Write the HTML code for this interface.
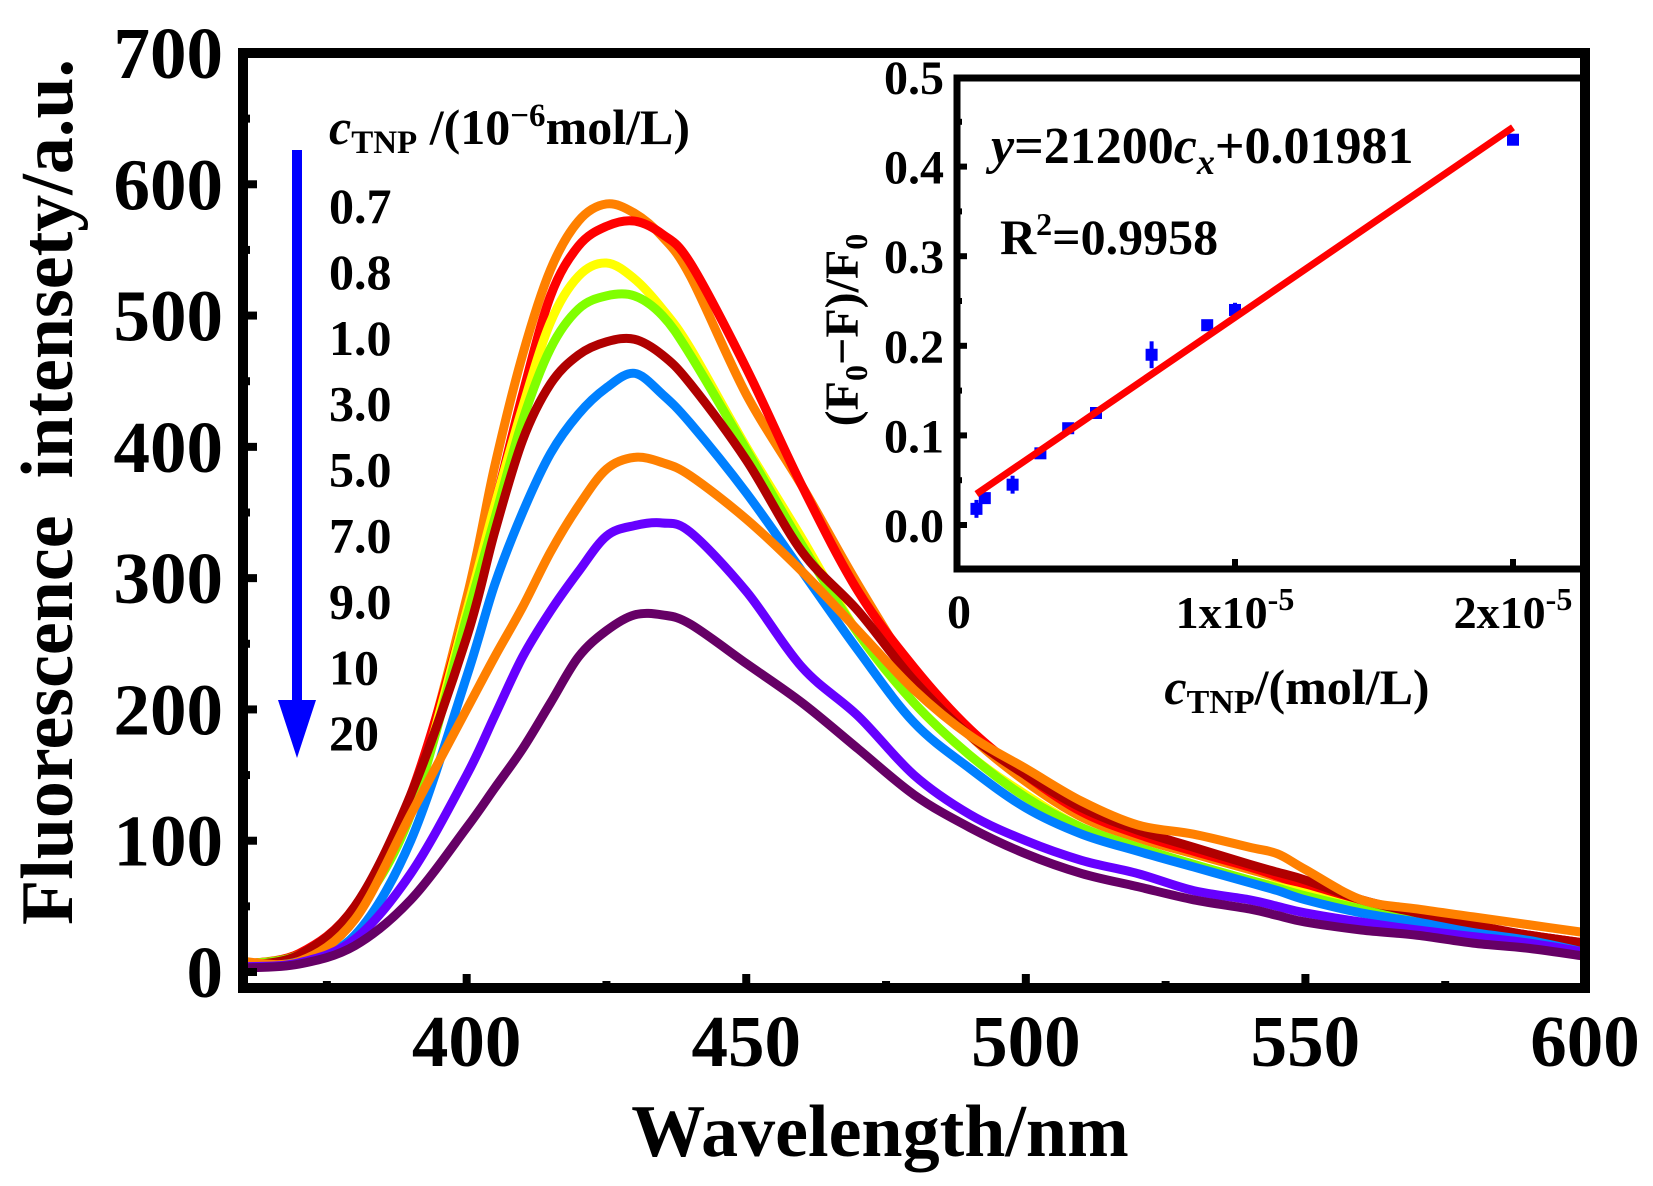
<!DOCTYPE html>
<html><head><meta charset="utf-8"><style>
html,body{margin:0;padding:0;background:#fff;}
svg{display:block;font-family:"Liberation Serif",serif;font-weight:bold;}
</style></head><body>
<svg id="chart" width="1653" height="1186" viewBox="0 0 1653 1186" xmlns="http://www.w3.org/2000/svg">
<rect width="1653" height="1186" fill="#fff"/>
<g id="curves"></g>
<g id="inset"></g>
<g id="axes"></g>
<text x="0" y="0" font-size="74" text-anchor="middle" transform="translate(72,492) rotate(-90)" xml:space="preserve">Fluorescence  intensety/a.u.</text>
<text x="880" y="1156" font-size="74" text-anchor="middle">Wavelength/nm</text>
<g>
<rect x="292" y="150" width="10" height="560" fill="#0000ff"/>
<polygon points="278,700 316,700 297,758" fill="#0000ff"/>
<text x="329" y="144" font-size="50"><tspan font-style="italic">c</tspan><tspan font-size="33" dy="9">TNP</tspan><tspan dy="-9"> /(10</tspan><tspan font-size="33" dy="-18">−6</tspan><tspan dy="18">mol/L)</tspan></text>
<g id="legendItems"></g>
</g>
</svg>
<script>
const wl=[360,370,380,390,400,405,410,415,420,425,430,435,440,450,460,470,480,490,500,510,520,530,540,545,550,560,570,580,590,600];
const s07=[6,14,48,130,285,385,470,535,572,585,578,560,530,440,370,295,228,180,145,118,102,90,78,72,65,52,42,35,28,22];
const s08=[6,14,50,135,275,355,440,515,553,568,572,562,540,460,370,290,232,185,150,122,105,92,80,73,65,50,42,35,28,22];
const s10=[6,13,45,125,275,355,430,495,530,540,528,505,475,400,330,258,205,165,135,110,95,82,70,65,60,48,40,33,26,20];
const s30=[6,13,45,120,270,345,420,475,505,515,515,500,470,398,325,258,205,165,133,110,95,82,70,64,58,48,40,33,26,20];
const s50=[5,13,50,135,255,335,405,448,470,480,482,470,448,390,320,275,222,180,150,125,108,95,82,76,70,55,45,36,28,22];
const s70=[4,8,28,100,225,295,350,395,425,445,456,440,418,365,305,245,190,155,125,105,92,80,68,62,55,45,38,30,24,15];
const s90=[8,8,40,120,200,240,278,320,355,383,392,388,378,345,305,260,215,180,155,130,112,105,95,90,78,55,48,42,36,30];
const s100=[4,7,25,75,150,195,240,275,305,332,340,342,335,290,232,195,150,120,100,85,75,62,55,50,45,38,32,27,22,15];
const s200=[3,6,20,55,110,140,170,205,240,260,272,272,265,235,205,170,135,110,90,75,65,55,48,43,38,32,28,22,18,12];
const seriesVals=[s07,s08,s10,s30,s50,s70,s90,s100,s200];
const seriesColors=["#ff8000","#ff0000","#ffff00","#80ff00","#b00000","#0080ff","#ff8000","#6600ff","#660066"];
const seriesLabels=["0.7","0.8","1.0","3.0","5.0","7.0","9.0","10","20"];
const xTicks=[400,450,500,550,600];
const yTicks=[0,100,200,300,400,500,600,700];
const insetX=[0.7e-6,1.0e-6,2e-6,3e-6,4e-6,5e-6,7e-6,9e-6,10e-6,20e-6];
const insetY=[0.018,0.03,0.045,0.08,0.108,0.125,0.19,0.223,0.24,0.43];
const insetErr=[0.01,0.006,0.01,0.004,0.004,0.004,0.015,0.006,0.008,0.004];
const insetYTicks=[0.0,0.1,0.2,0.3,0.4,0.5];
const insetYTickLabels=["0.0","0.1","0.2","0.3","0.4","0.5"];
const fitSlope=21200, fitIntercept=0.01981;

const NS="http://www.w3.org/2000/svg";
const L=243,R=1585,T=53,B=988;
const X=w=>L+(w-360)*(R-L)/240;
const Y=v=>972-v*(972-53)/700;
const IL=957,IR=1585,IT=78,IB=569;
const IX=c=>IL+c*278e5;
const IY=v=>525-v*896;
function el(tag,attrs,parent){const e=document.createElementNS(NS,tag);for(const k in attrs)e.setAttribute(k,attrs[k]);parent.appendChild(e);return e;}
function smooth(pts){let d=`M${pts[0][0]},${pts[0][1]}`;for(let i=0;i<pts.length-1;i++){const p0=pts[Math.max(0,i-1)],p1=pts[i],p2=pts[i+1],p3=pts[Math.min(pts.length-1,i+2)];d+=`C${p1[0]+(p2[0]-p0[0])/6},${p1[1]+(p2[1]-p0[1])/6} ${p2[0]-(p3[0]-p1[0])/6},${p2[1]-(p3[1]-p1[1])/6} ${p2[0]},${p2[1]}`;}return d;}
const curves=document.getElementById('curves');
seriesVals.forEach((vals,i)=>{
 const p=el('path',{d:smooth(wl.map((w,j)=>[X(w),Y(vals[j])])),fill:'none',stroke:seriesColors[i],'stroke-width':9,'stroke-linejoin':'round'},curves);
 
 
});
const li=document.getElementById('legendItems');
seriesLabels.forEach((lab,i)=>{
 const t=el('text',{x:329,y:223+i*65.9,'font-size':50},li);t.textContent=lab;
 
 
});
const ax=document.getElementById('axes');
const fr=el('rect',{x:L,y:T,width:R-L,height:B-T,fill:'none',stroke:'#000','stroke-width':10},ax);


for(let w=375;w<=600;w+=25){const major=w%50===0;el('line',{x1:X(w),x2:X(w),y1:B,y2:B-(major?14:7),stroke:'#000','stroke-width':8},ax);}
xTicks.forEach(w=>{const t=el('text',{x:X(w),y:1066,'font-size':73,'text-anchor':'middle'},ax);t.textContent=w;
 
 });
for(let v=0;v<=650;v+=50){const major=v%100===0;el('line',{x1:L,x2:L+(major?14:7),y1:Y(v),y2:Y(v),stroke:'#000','stroke-width':8},ax);}
yTicks.forEach(v=>{const t=el('text',{x:223,y:Y(v)+25,'font-size':73,'text-anchor':'end'},ax);t.textContent=v;
 
 });
const ins=document.getElementById('inset');
el('rect',{x:IL,y:IT,width:IR-IL,height:IB-IT,fill:'#fff',stroke:'none'},ins);
insetX.forEach((c,i)=>{
 const g=el('g',{},ins);
 
 
 el('line',{x1:IX(c),x2:IX(c),y1:IY(insetY[i]-insetErr[i]),y2:IY(insetY[i]+insetErr[i]),stroke:'#0000ff','stroke-width':4},g);
 el('rect',{x:IX(c)-6,y:IY(insetY[i])-6,width:12,height:12,fill:'#0000ff'},g);
});
const fx0=insetX[0],fx1=insetX[insetX.length-1];
const fl=el('line',{x1:IX(fx0),y1:IY(fitSlope*fx0+fitIntercept),x2:IX(fx1),y2:IY(fitSlope*fx1+fitIntercept),stroke:'#ff0000','stroke-width':7},ins);


const ifr=el('rect',{x:IL,y:IT,width:IR-IL,height:IB-IT,fill:'none',stroke:'#000','stroke-width':7},ins);


for(let v=0;v<=0.45;v+=0.05){const major=Math.round(v*100)%10===0;el('line',{x1:IL,x2:IL+(major?10:5),y1:IY(v),y2:IY(v),stroke:'#000','stroke-width':6},ins);}
insetYTicks.forEach((v,i)=>{const t=el('text',{x:944,y:IY(v)+17,'font-size':48,'text-anchor':'end'},ins);t.textContent=insetYTickLabels[i];
 
 });
[1e-5,2e-5].forEach(c=>el('line',{x1:IX(c),x2:IX(c),y1:IB,y2:IB-10,stroke:'#000','stroke-width':6},ins));
const it0=el('text',{x:IX(0)+2,y:628,'font-size':48,'text-anchor':'middle'},ins);it0.textContent='0';


[[1e-5,'1'],[2e-5,'2']].forEach(([c,n])=>{const t=el('text',{x:IX(c),y:628,'font-size':46,'text-anchor':'middle'},ins);
 t.innerHTML=n+'x10<tspan font-size="32" dy="-18">-5</tspan>';
 
 });
const eq=el('text',{x:991,y:163,'font-size':52},ins);
eq.innerHTML='<tspan font-style="italic">y</tspan>=21200<tspan font-style="italic">c</tspan><tspan font-style="italic" font-size="36" dy="11">x</tspan><tspan dy="-11">+0.01981</tspan>';


const r2=el('text',{x:1000,y:254,'font-size':50},ins);
r2.innerHTML='R<tspan font-size="32" dy="-19">2</tspan><tspan dy="19">=0.9958</tspan>';


const iyt=el('text',{x:0,y:0,'font-size':48,'text-anchor':'middle',transform:'translate(858,330) rotate(-90)'},ins);
iyt.innerHTML='(F<tspan font-size="32" dy="9">0</tspan><tspan dy="-9">−F)/F</tspan><tspan font-size="32" dy="9">0</tspan>';


const ixt=el('text',{x:1297,y:704,'font-size':50,'text-anchor':'middle'},ins);
ixt.innerHTML='<tspan font-style="italic">c</tspan><tspan font-size="34" dy="9">TNP</tspan><tspan dy="-9">/(mol/L)</tspan>';


</script>
</body></html>
